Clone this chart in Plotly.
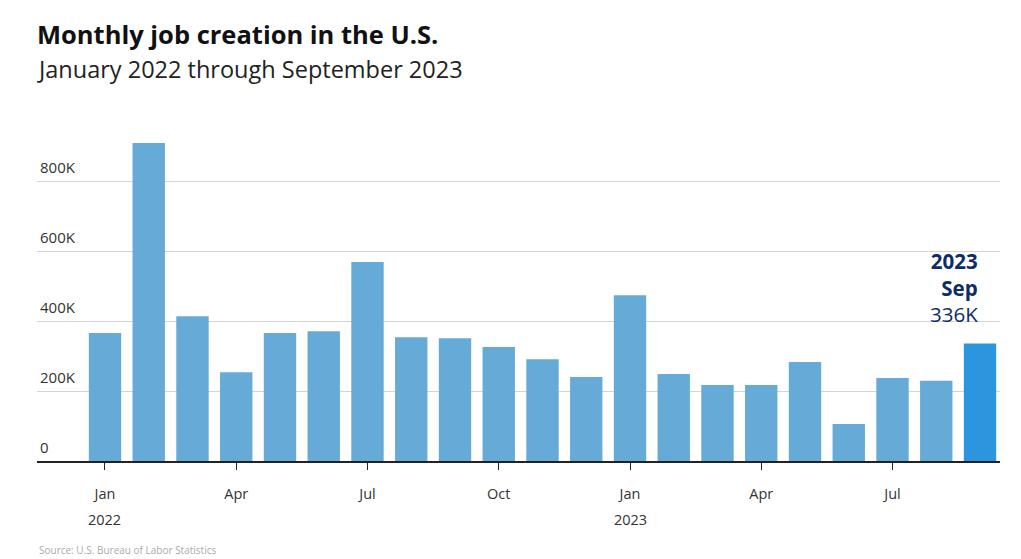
import plotly.graph_objects as go

months = ["2022-01", "2022-02", "2022-03", "2022-04", "2022-05", "2022-06", "2022-07",
          "2022-08", "2022-09", "2022-10", "2022-11", "2022-12", "2023-01", "2023-02",
          "2023-03", "2023-04", "2023-05", "2023-06", "2023-07", "2023-08", "2023-09"]
jobs = [366, 909, 414, 254, 366, 371, 569, 354, 351, 326, 291, 240, 474, 249,
        217, 217, 283, 106, 237, 229, 336]  # thousands

tick_months = ["2022-01", "2022-04", "2022-07", "2022-10", "2023-01", "2023-04", "2023-07"]
tick_labels = ["Jan", "Apr", "Jul", "Oct", "Jan", "Apr", "Jul"]
year_labels = {"2022-01": "2022", "2023-01": "2023"}
ytick_vals = [0, 200, 400, 600, 800]
ytick_text = ["0", "200K", "400K", "600K", "800K"]

base_color = "#66aad7"
hl_color = "#2b96dd"
colors = [base_color] * (len(months) - 1) + [hl_color]

font = "Open Sans, Lato, sans-serif"

OFF = 8  # page body margin
PLOT_TOP, PLOT_BOTTOM = 130 - OFF, 461 - OFF
PLOT_LEFT, PLOT_RIGHT = 37 - OFF, 1000 - OFF
def py(pix):
    return (PLOT_BOTTOM - (pix - OFF)) / (PLOT_BOTTOM - PLOT_TOP)

fig = go.Figure(go.Bar(
    x=months, y=jobs, marker=dict(color=colors, line=dict(width=0)),
    width=0.74, hoverinfo="skip"))

fig.update_layout(
    width=1021, height=559,
    margin=dict(l=PLOT_LEFT, r=1021 - PLOT_RIGHT, t=PLOT_TOP, b=559 - PLOT_BOTTOM),
    plot_bgcolor="white", paper_bgcolor="white",
    font=dict(family=font, color="#333333", size=14),
    showlegend=False,
    xaxis=dict(type="category", range=[-1.554, 20.457],
               tickvals=tick_months, ticktext=tick_labels,
               ticks="outside", ticklen=7, tickcolor="#222222", tickwidth=1.2,
               showline=True, linecolor="#222222", linewidth=1.5,
               showgrid=False, tickfont=dict(size=14.5, color="#333333"),
               ticklabelstandoff=12),
    yaxis=dict(range=[0, 946], tickvals=ytick_vals, ticktext=ytick_text,
               ticklabelposition="inside top", showgrid=True,
               gridcolor="#d4d4d4", gridwidth=1, zeroline=False,
               ticklabelshift=-3,
               tickfont=dict(size=15, color="#333333"), fixedrange=True),
    title=dict(text="<b>Monthly job creation in the U.S.</b>", x=(37 - OFF) / 1021,
               xanchor="left", y=1 - (35 - OFF) / 559, yanchor="middle",
               font=dict(size=25.5, color="#111111", family=font)),
)

# Subtitle
fig.add_annotation(text="January 2022 through September 2023", xref="paper", yref="paper",
                   x=0, xanchor="left", y=py(69), yanchor="middle", showarrow=False,
                   xshift=-2,
                   font=dict(size=23.5, color="#222222", family=font))

# Year labels under January ticks
for m, yl in year_labels.items():
    fig.add_annotation(text=yl, x=m, xref="x", yref="paper", y=py(519),
                       yanchor="middle", showarrow=False,
                       font=dict(size=14.5, color="#333333", family=font))

# Highlight label for last bar
last = months[-1]
fig.add_annotation(text="<b>2023</b><br><b>Sep</b><br>%dK" % jobs[-1], x=last, xref="x",
                   y=jobs[-1], yref="y", xanchor="right", yanchor="bottom",
                   xshift=0, yshift=13, align="right", showarrow=False,
                   font=dict(size=20.5, color="#0d2c6c", family=font))

# Source line at the bottom
fig.add_annotation(text="Source: U.S. Bureau of Labor Statistics", xref="paper", yref="paper",
                   x=0, xanchor="left", y=py(550), yanchor="middle", showarrow=False,
                   font=dict(size=10, color="#aaaaaa", family=font))

fig.write_html("out.html")
